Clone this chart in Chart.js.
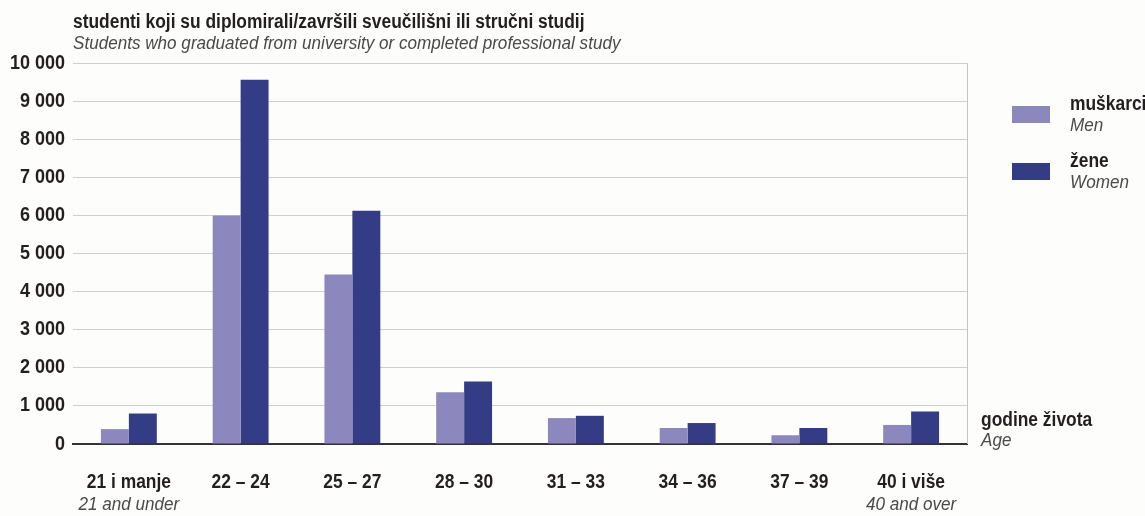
<!DOCTYPE html>
<html>
<head>
<meta charset="utf-8">
<script src="https://cdn.jsdelivr.net/npm/chart.js@4"></script>
<style>
  html, body { margin: 0; padding: 0; background: #fdfdfb; }
  #wrap { width: 1145px; height: 516px; position: relative; }
</style>
</head>
<body>
<div id="wrap"><canvas id="canvas" width="1145" height="516"></canvas></div>
<script>
var categories = ["21 i manje", "22 – 24", "25 – 27", "28 – 30", "31 – 33", "34 – 36", "37 – 39", "40 i više"];
var subLabels = ["21 and under", "", "", "", "", "", "", "40 and over"];
var men = [390, 6000, 4450, 1360, 680, 420, 230, 500];
var women = [800, 9560, 6120, 1640, 740, 550, 420, 850];
var yTicks = [0, 1000, 2000, 3000, 4000, 5000, 6000, 7000, 8000, 9000, 10000];

var FONT = "'Liberation Sans', Arial, sans-serif";
var INK = '#231f20';
var GREY = '#4a4a4a';
var MEN_COLOR = '#8c88bd';
var WOMEN_COLOR = '#343c86';
var SX = 0.87;     // condensed look, bold
var SX_IT = 0.9;   // italic lines

var formatNum = function(v) {
    return String(v).replace(/\B(?=(\d{3})+(?!\d))/g, ' ');
};

// draws horizontally squeezed text
var txt = function(ctx, s, x, y, font, color, align, sx) {
    ctx.save();
    ctx.font = font;
    ctx.fillStyle = color;
    ctx.textBaseline = 'middle';
    ctx.textAlign = 'left';
    var w = ctx.measureText(s).width * sx;
    var x0 = align === 'center' ? x - w / 2 : (align === 'right' ? x - w : x);
    ctx.translate(x0, y);
    ctx.scale(sx, 1);
    ctx.fillText(s, 0, 0);
    ctx.restore();
};

var decor = {
    id: 'decor',
    afterDraw: function(chart) {
        var ctx = chart.ctx;
        var area = chart.chartArea;
        var x = chart.scales.x;
        var y = chart.scales.y;
        var bold = 'bold 20px ' + FONT;
        var ital = 'italic 19px ' + FONT;

        // right border
        ctx.save();
        ctx.strokeStyle = '#c4c4c4';
        ctx.lineWidth = 1;
        ctx.beginPath();
        ctx.moveTo(area.right + 0.5, area.top);
        ctx.lineTo(area.right + 0.5, area.bottom);
        ctx.stroke();
        ctx.restore();

        // titles
        txt(ctx, 'studenti koji su diplomirali/završili sveučilišni ili stručni studij', 73, 22, bold, INK, 'left', SX);
        txt(ctx, 'Students who graduated from university or completed professional study', 73, 44, ital, GREY, 'left', SX_IT);

        // y tick labels
        yTicks.forEach(function(v) {
            txt(ctx, formatNum(v), 65, y.getPixelForValue(v), bold, INK, 'right', 0.9);
        });

        // x labels
        categories.forEach(function(c, i) {
            var px = x.getPixelForValue(i);
            txt(ctx, c, px, 482, bold, INK, 'center', SX);
            if (subLabels[i]) {
                txt(ctx, subLabels[i], px, 505, ital, GREY, 'center', SX_IT);
            }
        });

        // axis name
        txt(ctx, 'godine života', 981, 420, bold, INK, 'left', SX);
        txt(ctx, 'Age', 981, 441, ital, GREY, 'left', SX_IT);

        // legend
        var items = [
            { color: MEN_COLOR, hr: 'muškarci', en: 'Men', y: 106 },
            { color: WOMEN_COLOR, hr: 'žene', en: 'Women', y: 163 }
        ];
        items.forEach(function(it) {
            ctx.fillStyle = it.color;
            ctx.fillRect(1012, it.y, 38, 17);
            txt(ctx, it.hr, 1070, it.y - 2, bold, INK, 'left', SX);
            txt(ctx, it.en, 1070, it.y + 20, ital, GREY, 'left', SX_IT);
        });
    }
};

var config = {
    type: 'bar',
    data: {
        labels: categories,
        datasets: [{
            label: 'muškarci',
            data: men,
            backgroundColor: MEN_COLOR,
            barPercentage: 1.0,
            categoryPercentage: 0.5
        }, {
            label: 'žene',
            data: women,
            backgroundColor: WOMEN_COLOR,
            barPercentage: 1.0,
            categoryPercentage: 0.5
        }]
    },
    options: {
        responsive: false,
        animation: false,
        layout: {
            padding: { top: 63, right: 178, bottom: 64, left: 0 }
        },
        plugins: {
            legend: { display: false },
            tooltip: { enabled: false }
        },
        scales: {
            x: {
                ticks: { display: false },
                grid: { display: false },
                border: { color: '#333', width: 2 }
            },
            y: {
                min: 0,
                max: 10000,
                afterBuildTicks: function(scale) {
                    scale.ticks = yTicks.map(function(v) { return { value: v }; });
                },
                afterFit: function(scale) { scale.width = 73; },
                ticks: { display: false },
                grid: { color: '#d0d0d0', drawTicks: false },
                border: { display: false }
            }
        }
    },
    plugins: [decor]
};

window.onload = function() {
    window.myBar = new Chart(document.getElementById('canvas'), config);
};
</script>
</body>
</html>
